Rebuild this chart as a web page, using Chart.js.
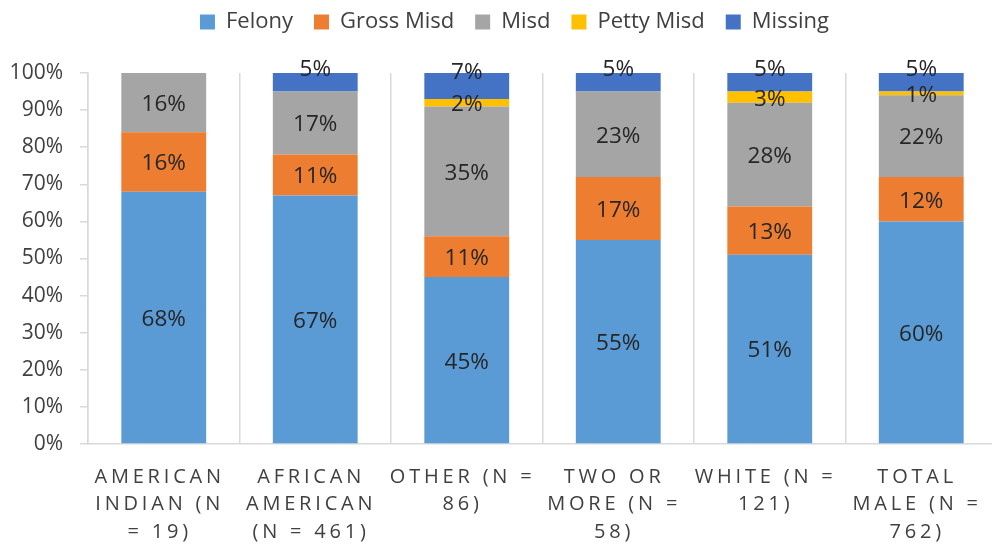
<!DOCTYPE html>
<html><head><meta charset="utf-8">
<script src="https://cdn.jsdelivr.net/npm/chart.js@4.4.0/dist/chart.umd.min.js"></script>
<style>
html,body{margin:0;padding:0;overflow:hidden;background:#fff;}
#wrap{width:997px;height:546px;position:relative;}
</style></head><body>
<div id="wrap"><canvas id="c"></canvas></div>
<script>
const categories = [
  ["AMERICAN","INDIAN (N","= 19)"],
  ["AFRICAN","AMERICAN","(N = 461)"],
  ["OTHER (N =","86)"],
  ["TWO OR","MORE (N =","58)"],
  ["WHITE (N =","121)"],
  ["TOTAL","MALE (N =","762)"]
];
const felony    = [68, 67, 45, 55, 51, 60];
const grossMisd = [16, 11, 11, 17, 13, 12];
const misd      = [16, 17, 35, 23, 28, 22];
const pettyMisd = [0, 0, 2, 0, 3, 1];
const missing   = [0, 5, 7, 5, 5, 5];
const yTicks = [0,10,20,30,40,50,60,70,80,90,100];

const FONT = "'Open Sans', 'Noto Sans', sans-serif";

const legendLayout = {
  id: 'legendLayout',
  beforeInit(chart) {
    const lg = chart.legend;
    if (!lg) return;
    const fit = lg.fit;
    lg.fit = function() { fit.call(this); this.height = 83; };
  },
  afterLayout(chart) {
    const lg = chart.legend;
    if (!lg) return;
    lg.left += 16; lg.right += 16;
  }
};

const dataLabels = {
  id: 'dataLabels',
  afterDatasetsDraw(chart) {
    const ctx = chart.ctx;
    ctx.save();
    ctx.font = "22.5px " + FONT;
    ctx.fillStyle = '#262626';
    ctx.textAlign = 'center';
    ctx.textBaseline = 'middle';
    chart.data.datasets.forEach((ds, di) => {
      const meta = chart.getDatasetMeta(di);
      meta.data.forEach((el, i) => {
        const v = ds.data[i];
        if (!v) return;
        const p = el.getCenterPoint();
        const off = ds.labelOffset || 0;
        ctx.fillText(v + '%', p.x, p.y + 2 + off);
      });
    });
    ctx.restore();
  }
};

const xLabels = {
  id: 'xLabels',
  afterDraw(chart) {
    const ctx = chart.ctx;
    const sx = chart.scales.x;
    ctx.save();
    ctx.font = "20px " + FONT;
    ctx.fillStyle = '#404040';
    ctx.textAlign = 'center';
    ctx.textBaseline = 'middle';
    const ls = 3.8;
    try { ctx.letterSpacing = ls + 'px'; } catch(e) {}
    categories.forEach((lines, i) => {
      const x = sx.getPixelForValue(i);
      lines.forEach((t, j) => {
        ctx.fillText(t, x - 6 + ls/2, sx.top + 33 + j * 27.5);
      });
    });
    ctx.restore();
  }
};

new Chart(document.getElementById('c'), {
  type: 'bar',
  data: {
    labels: categories.map(c => c.join(' ')),
    datasets: [
      {label: 'Felony', data: felony, backgroundColor: '#5B9BD5'},
      {label: 'Gross Misd', data: grossMisd, backgroundColor: '#ED7D31'},
      {label: 'Misd', data: misd, backgroundColor: '#A5A5A5'},
      {label: 'Petty Misd', data: pettyMisd, backgroundColor: '#FFC000'},
      {label: 'Missing', data: missing, backgroundColor: '#4472C4', labelOffset: -15}
    ]
  },
  options: {
    responsive: true,
    maintainAspectRatio: false,
    animation: false,
    datasets: { bar: { barPercentage: 0.56, categoryPercentage: 1.0, borderWidth: 0 } },
    layout: { padding: { top: -10, left: 0, right: 0, bottom: 0 } },
    plugins: {
      legend: {
        position: 'top',
        labels: {
          font: { family: FONT, size: 22 },
          color: '#404040',
          boxWidth: 15, boxHeight: 15,
          padding: 21
        }
      },
      tooltip: { enabled: false }
    },
    scales: {
      x: {
        stacked: true,
        grid: { display: true, offset: true, color: '#d9d9d9', lineWidth: 1.5, drawTicks: false },
        border: { display: true, color: '#d9d9d9', width: 1.5 },
        ticks: { display: false },
        afterFit(s) { s.height = 102; }
      },
      y: {
        stacked: true,
        min: 0, max: 100,
        afterBuildTicks(s) { s.ticks = yTicks.map(v => ({value: v})); },
        grid: { display: true, drawOnChartArea: false, color: '#d9d9d9', lineWidth: 1.5, tickLength: 8 },
        border: { display: true, color: '#d9d9d9', width: 1.5 },
        ticks: {
          font: { family: FONT, size: 21 },
          color: '#404040',
          padding: 17,
          callback: v => v + '%'
        },
        afterFit(s) { s.width = 88; }
      }
    }
  },
  plugins: [legendLayout, dataLabels, xLabels]
});
</script>
</body></html>
